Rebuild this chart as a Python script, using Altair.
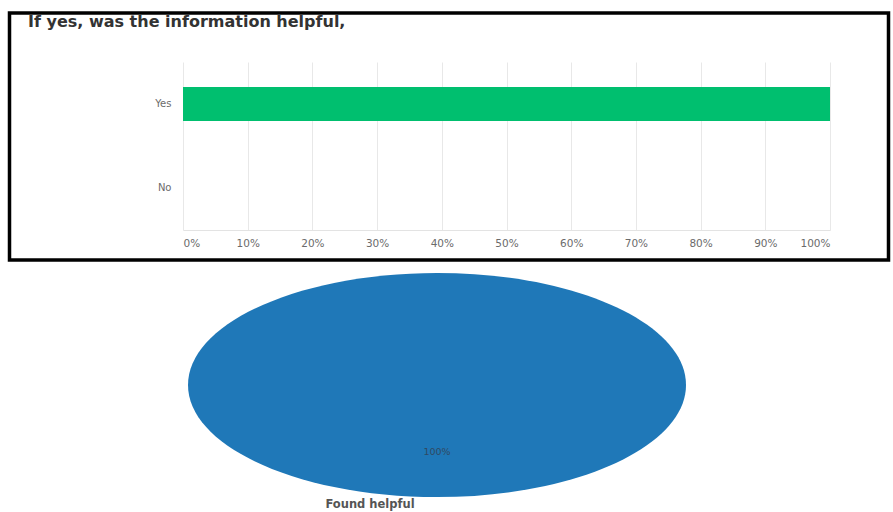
import altair as alt
import pandas as pd

# ---- data ----
answers = ["Yes", "No"]
answer_shares = [100, 0]
x_ticks = [0, 10, 20, 30, 40, 50, 60, 70, 80, 90, 100]

pie_groups = ["Found helpful"]
pie_shares = [100]
pie_labels = ["100%"]

title_text = "If yes, was the information helpful,"

bar_df = pd.DataFrame({"answer": answers, "share": answer_shares})
pie_df = pd.DataFrame({"group": pie_groups, "share": pie_shares, "label": pie_labels})
frame_df = pd.DataFrame({"k": [0]})

# ---- top: horizontal bar chart inside a black frame ----
bars = alt.Chart(bar_df).mark_bar(color="#00bf6f").encode(
    x=alt.X(
        "share:Q",
        scale=alt.Scale(domain=[0, 100]),
        axis=alt.Axis(
            values=x_ticks,
            labelExpr="datum.value + '%'",
            title=None,
            grid=True,
            gridColor="#e8e8e8",
            ticks=False,
            domainColor="#e3e3e3",
            labelColor="#6b6b6b",
            labelFont="DejaVu Sans",
            labelFontSize=10.5,
            labelPadding=8,
        ),
    ),
    y=alt.Y(
        "answer:N",
        sort=answers,
        scale=alt.Scale(paddingInner=0.595, paddingOuter=0.2976),
        axis=alt.Axis(
            title=None,
            ticks=False,
            domain=False,
            labelColor="#6b6b6b",
            labelFont="DejaVu Sans",
            labelFontSize=10,
            labelPadding=12,
        ),
    ),
)

frame = alt.Chart(frame_df).mark_rect(
    fillOpacity=0, stroke="#000000", strokeWidth=3.5
).encode(
    x=alt.value(-173.5), x2=alt.value(705.5), y=alt.value(-49), y2=alt.value(198)
)

top = alt.layer(bars, frame).properties(
    width=647,
    height=168,
    title=alt.TitleParams(
        title_text,
        anchor="start",
        frame="group",
        dx=-155,
        dy=32,
        offset=0,
        baseline="alphabetic",
        font="DejaVu Sans",
        fontSize=16,
        fontWeight="bold",
        color="#333333",
    ),
)

# ---- bottom: single-slice pie (stretched to an ellipse) ----
ELLIPSE = (
    "M -1 0 C -1 -0.2485 -0.5523 -0.45 0 -0.45 "
    "C 0.5523 -0.45 1 -0.2485 1 0 "
    "C 1 0.2485 0.5523 0.45 0 0.45 "
    "C -0.5523 0.45 -1 0.2485 -1 0 Z"
)

pie_base = alt.Chart(pie_df).encode(
    x=alt.X("group:N", axis=None),
    y=alt.Y("group:N", axis=None),
)

pie_shape = pie_base.mark_point(
    shape=ELLIPSE, filled=True, opacity=1, strokeWidth=0, color="#1f78b8"
).encode(
    size=alt.Size(
        "share:Q", scale=alt.Scale(domain=[0, 100], range=[0, 248004]), legend=None
    )
)

pie_pct = pie_base.mark_text(
    dy=67, font="DejaVu Sans", fontSize=9.5, color="#2f4a63"
).encode(text="label:N")

pie_caption = pie_base.mark_text(
    dy=120, dx=-67, font="DejaVu Sans", fontSize=11.5, fontWeight="bold", color="#555555"
).encode(text="group:N")

pie = alt.layer(pie_shape, pie_pct, pie_caption).properties(width=508, height=230)

chart = (
    alt.vconcat(top, pie, spacing=40, bounds="flush")
    .properties(
        autosize=alt.AutoSizeParams(type="none"),
        padding={"left": 183, "top": 62, "right": 710, "bottom": 450},
        background="#ffffff",
    )
    .configure_view(strokeWidth=0)
)

chart.save("out.html", embed_options={"renderer": "svg", "actions": False})
